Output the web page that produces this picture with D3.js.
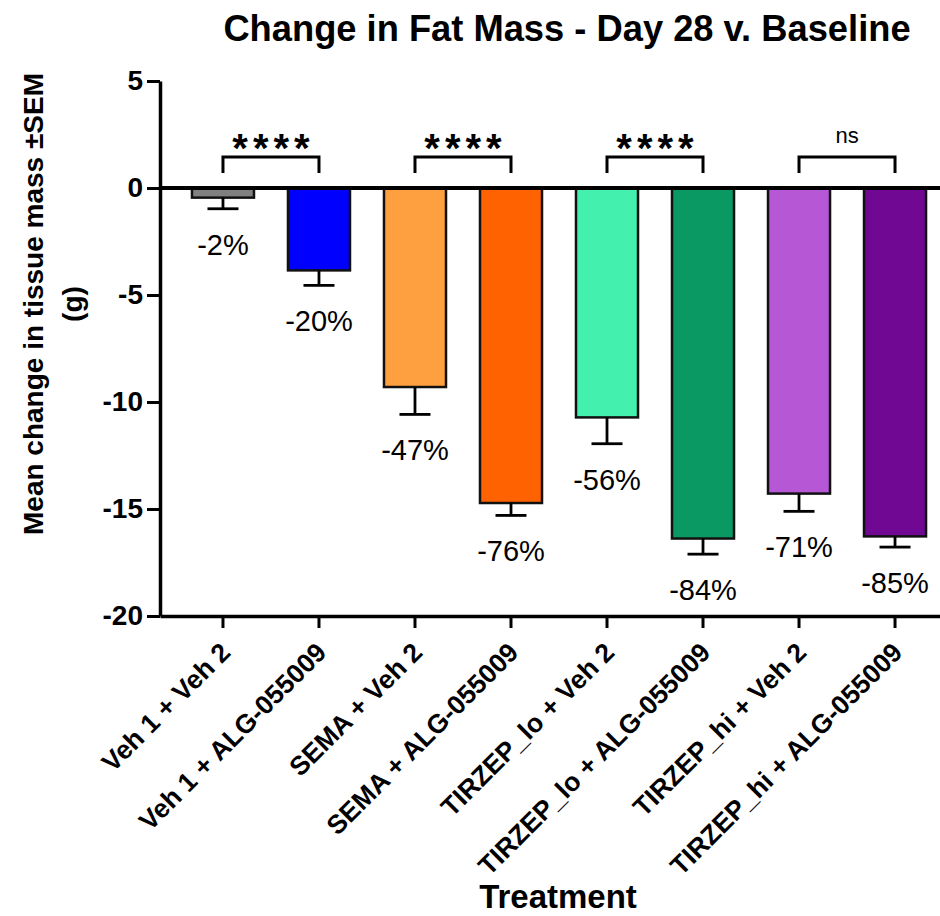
<!DOCTYPE html>
<html>
<head>
<meta charset="utf-8">
<script src="https://cdn.jsdelivr.net/npm/d3@7"></script>
<style>
  body { margin: 0; background: #fff; }
  text { font-family: "Liberation Sans", Arial, sans-serif; }
</style>
</head>
<body>
<svg id="chart" width="940" height="916"></svg>
<script>
// data
const treatments = [
  "Veh 1 + Veh 2", "Veh 1 + ALG-055009",
  "SEMA + Veh 2", "SEMA + ALG-055009",
  "TIRZEP_lo + Veh 2", "TIRZEP_lo + ALG-055009",
  "TIRZEP_hi + Veh 2", "TIRZEP_hi + ALG-055009"
];
const means = [-0.45, -3.85, -9.3, -14.72, -10.72, -16.38, -14.28, -16.28];
const sems = [0.52, 0.7, 1.28, 0.58, 1.23, 0.73, 0.83, 0.5];
const pctLabels = ["-2%", "-20%", "-47%", "-76%", "-56%", "-84%", "-71%", "-85%"];
const barColors = ["#808080", "#0000ff", "#ffa040", "#ff6200", "#44f0ae", "#0b9963", "#b658d6", "#710894"];
const yTicks = [5, 0, -5, -10, -15, -20];
const comparisons = [[0, 1, "****"], [2, 3, "****"], [4, 5, "****"], [6, 7, "ns"]];

const svg = d3.select("#chart");

const x = d3.scaleBand()
  .domain(treatments)
  .range([160, 958])
  .paddingInner(0.354)
  .paddingOuter(0.333);

const y = d3.scaleLinear()
  .domain([-20, 5])
  .range([616, 81]);

// bars
svg.append("g")
  .selectAll("rect")
  .data(treatments)
  .join("rect")
    .attr("x", d => x(d))
    .attr("width", x.bandwidth())
    .attr("y", y(0))
    .attr("height", (d, i) => y(means[i]) - y(0))
    .attr("fill", (d, i) => barColors[i])
    .attr("stroke", "#111")
    .attr("stroke-width", 2.5);

// error bars (downward only)
const err = svg.append("g").attr("stroke", "#000").attr("stroke-width", 2.8);
treatments.forEach((t, i) => {
  const cx = x(t) + x.bandwidth() / 2;
  err.append("line")
    .attr("x1", cx).attr("x2", cx)
    .attr("y1", y(means[i])).attr("y2", y(means[i] - sems[i]));
  err.append("line")
    .attr("x1", cx - 15.5).attr("x2", cx + 15.5)
    .attr("y1", y(means[i] - sems[i])).attr("y2", y(means[i] - sems[i]));
});

// percent labels under each error bar
svg.append("g")
  .selectAll("text")
  .data(treatments)
  .join("text")
    .attr("x", d => x(d) + x.bandwidth() / 2)
    .attr("y", (d, i) => y(means[i] - sems[i]) + 46)
    .attr("text-anchor", "middle")
    .attr("font-size", 29)
    .text((d, i) => pctLabels[i]);

// zero line
svg.append("line")
  .attr("x1", 160).attr("x2", 940)
  .attr("y1", y(0)).attr("y2", y(0))
  .attr("stroke", "#000")
  .attr("stroke-width", 4);

// y axis
const yAxis = svg.append("g")
  .attr("transform", "translate(160,0)")
  .call(d3.axisLeft(y).tickValues(yTicks).tickFormat(d => String(d))
    .tickSize(13).tickSizeOuter(0).tickPadding(4));
yAxis.select(".domain").attr("stroke-width", 3.5);
yAxis.selectAll(".tick line").attr("stroke-width", 3);
yAxis.selectAll("text")
  .attr("font-size", 28)
  .attr("font-weight", "bold")
  .attr("font-family", "'Liberation Sans', Arial, sans-serif")
  .attr("fill", "#000");

// x axis
const xAxis = svg.append("g")
  .attr("transform", "translate(0,616)")
  .call(d3.axisBottom(x).tickSize(12).tickSizeOuter(0));
xAxis.select(".domain").attr("stroke-width", 3.5);
xAxis.selectAll(".tick line").attr("stroke-width", 3);
xAxis.selectAll("text")
  .attr("y", 0)
  .attr("dy", 0)
  .attr("transform", "translate(9,38) rotate(-45)")
  .attr("text-anchor", "end")
  .attr("font-size", 26.5)
  .attr("font-weight", "bold")
  .attr("font-family", "'Liberation Sans', Arial, sans-serif")
  .attr("fill", "#000");

// significance brackets
const sig = svg.append("g");
comparisons.forEach(([a, b, label]) => {
  const xa = x(treatments[a]) + x.bandwidth() / 2;
  const xb = x(treatments[b]) + x.bandwidth() / 2;
  const top = y(0) - 31;
  const bottom = y(0) - 15;
  sig.append("path")
    .attr("d", `M${xa},${bottom}V${top}H${xb}V${bottom}`)
    .attr("fill", "none")
    .attr("stroke", "#000")
    .attr("stroke-width", 3);
  if (label === "ns") {
    sig.append("text")
      .attr("x", (xa + xb) / 2)
      .attr("y", top - 14)
      .attr("text-anchor", "middle")
      .attr("font-size", 22)
      .text(label);
  } else {
    sig.append("text")
      .attr("x", (xa + xb) / 2 + 2.5)
      .attr("y", top + 5)
      .attr("text-anchor", "middle")
      .attr("font-size", 40)
      .attr("font-weight", "bold")
      .attr("letter-spacing", 5)
      .text(label);
  }
});

// title
svg.append("text")
  .attr("x", 567)
  .attr("y", 41)
  .attr("text-anchor", "middle")
  .attr("font-size", 36.3)
  .attr("font-weight", "bold")
  .text("Change in Fat Mass - Day 28 v. Baseline");

// axis titles
svg.append("text")
  .attr("x", 558)
  .attr("y", 908)
  .attr("text-anchor", "middle")
  .attr("font-size", 33)
  .attr("font-weight", "bold")
  .text("Treatment");

const yTitle = svg.append("text")
  .attr("transform", "translate(0,304) rotate(-90)")
  .attr("text-anchor", "middle")
  .attr("font-size", 28)
  .attr("font-weight", "bold");
yTitle.append("tspan").attr("x", 0).attr("y", 43).text("Mean change in tissue mass ±SEM");
yTitle.append("tspan").attr("x", 0).attr("y", 82).text("(g)");
</script>
</body>
</html>
